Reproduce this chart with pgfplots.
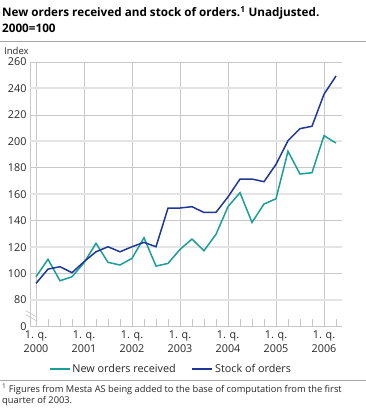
\documentclass[border=0pt]{standalone}
\usepackage{fontspec}
\setmainfont{Open Sans}
\usepackage{pgfplots}
\pgfplotsset{compat=1.18}
\definecolor{teal1}{RGB}{27,158,152}
\definecolor{navy1}{RGB}{31,56,150}
\definecolor{gridthin}{RGB}{200,200,200}
\definecolor{gridthick}{RGB}{228,228,228}
\begin{document}
\begin{tikzpicture}
\useasboundingbox (0pt,0pt) rectangle (366pt,408pt);
\node[anchor=base west,font=\bfseries\fontsize{11.7}{13}\selectfont,inner sep=0] at (2pt,391pt) {New orders received and stock of orders.\textsuperscript{1} Unadjusted.};
\node[anchor=base west,font=\bfseries\fontsize{11.7}{13}\selectfont,inner sep=0] at (2pt,375pt) {2000=100};
\draw[gray!70,line width=0.8pt] (0pt,367pt) -- (366pt,367pt);
\node[anchor=base west,font=\fontsize{9.5}{11}\selectfont,inner sep=0,text=black!85] at (4pt,353pt) {Index};
\begin{axis}[
  at={(30pt,81.5pt)}, anchor=south west,
  scale only axis, width=312pt, height=264.5pt,
  xmin=-0.5, xmax=25.5, ymin=60, ymax=260,
  axis lines*=left,
  axis line style={gridthin, line width=0.8pt},
  x axis line style={-}, y axis line style={-},
  xtick={0,4,...,24},
  xticklabels={{1. q.\\2000},{1. q.\\2001},{1. q.\\2002},{1. q.\\2003},{1. q.\\2004},{1. q.\\2005},{1. q.\\2006}},
  xticklabel style={align=center, font=\fontsize{10.8}{14}\selectfont, text=black!85, yshift=-1pt},
  minor xtick={0,...,25},
  tick align=inside,
  major tick length=0pt,
  minor tick length=7pt,
  minor tick style={gridthin, line width=0.8pt},
  xmajorgrids,
  ytick={60,80,...,260},
  yticklabels={0,80,100,120,140,160,180,200,220,240,260},
  yticklabel style={font=\fontsize{10.8}{12}\selectfont, text=black!85},
  ymajorgrids,
  major grid style={gridthin, line width=0.8pt},
  extra y ticks={80,120,160,200,240},
  extra y tick labels={},
  extra y tick style={grid=major, major grid style={gridthick, line width=2pt}},
  /pgf/number format/assume math mode=true,
  legend style={draw=none, at={(0.452,-0.16)}, anchor=center, legend columns=2,
    font=\fontsize{10.8}{12}\selectfont, fill=none, text=black!85,
    /tikz/every even column/.append style={column sep=14pt}},
  legend image code/.code={\draw[#1] (0pt,0pt) -- (20pt,0pt);},
  clip=false,
]
\addplot[teal1, line width=1.5pt] coordinates {
(0,97.6) (1,110.8) (2,94.6) (3,97.6) (4,108.2) (5,122.9) (6,108.5) (7,106.5)
(8,111.5) (9,127.1) (10,105.7) (11,107.7) (12,118.3) (13,126.1) (14,117.3) (15,129.7)
(16,150.6) (17,161.2) (18,138.7) (19,152.6) (20,156.6) (21,192.5) (22,175.3) (23,176.3)
(24,204.3) (25,198.7)};
\addlegendentry{New orders received}
\addplot[navy1, line width=1.5pt] coordinates {
(0,92.6) (1,103.4) (2,105.2) (3,100.7) (4,109) (5,116.5) (6,120.3) (7,116.5)
(8,120.3) (9,123.6) (10,120.3) (11,149.5) (12,149.6) (13,150.6) (14,146.2) (15,146.3)
(16,158) (17,171.5) (18,171.5) (19,169.5) (20,182.6) (21,200.5) (22,209.6) (23,211.4)
(24,235.6) (25,249.4)};
\addlegendentry{Stock of orders}
\draw[gridthin, line width=0.7pt] (axis cs:-0.85,69) -- (axis cs:0.1,64);
\draw[gridthin, line width=0.7pt] (axis cs:-0.85,72) -- (axis cs:0.1,67);
\end{axis}
\draw[gray!70,line width=0.8pt] (0pt,28pt) -- (366pt,28pt);
\node[anchor=base west,font=\fontsize{9.3}{11}\selectfont,inner sep=0,text=black!85] at (2pt,16pt) {\textsuperscript{1} Figures from Mesta AS being added to the base of computation from the first};
\node[anchor=base west,font=\fontsize{9.3}{11}\selectfont,inner sep=0,text=black!85] at (2pt,5pt) {quarter of 2003.};
\end{tikzpicture}
\end{document}
